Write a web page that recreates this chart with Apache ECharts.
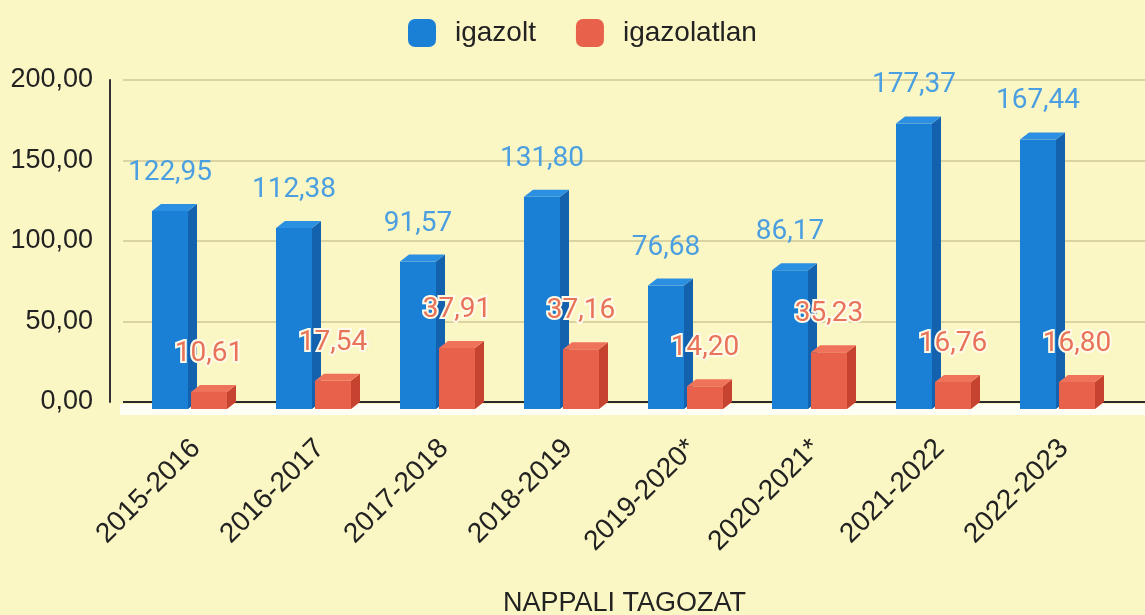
<!DOCTYPE html>
<html>
<head>
<meta charset="utf-8">
<script src="https://cdn.jsdelivr.net/npm/echarts@6/dist/echarts.min.js"></script>
<style>
  html, body { margin: 0; padding: 0; background: #fbf7c4; }
  #chart { width: 1145px; height: 615px; }
</style>
</head>
<body>
<div id="chart"></div>
<script>
const categories = ['2015-2016', '2016-2017', '2017-2018', '2018-2019', '2019-2020*', '2020-2021*', '2021-2022', '2022-2023'];
const igazolt = [122.95, 112.38, 91.57, 131.80, 76.68, 86.17, 177.37, 167.44];
const igazolatlan = [10.61, 17.54, 37.91, 37.16, 14.20, 35.23, 16.76, 16.80];
const yTicks = { min: 0, max: 200, interval: 50 };

const fmt = v => v.toFixed(2).replace('.', ',');

// 3d bar: front face + side + top
function bar3d(shift, cols) {
  return function (params, api) {
    const idx = api.value(0);
    const v = api.value(1);
    const top = api.coord([idx, v]);
    const zero = api.coord([idx, 0]);
    const w = 36, dx = 9, dy = 7;
    const x0 = top[0] + shift;
    const yT = top[1], y0 = zero[1];
    return {
      type: 'group',
      children: [
        { type: 'rect', shape: { x: x0, y: yT + dy, width: w, height: y0 - yT }, style: { fill: cols[0] } },
        { type: 'polygon', shape: { points: [[x0 + w, yT + dy], [x0 + w + dx, yT], [x0 + w + dx, y0], [x0 + w, y0 + dy]] }, style: { fill: cols[1] } },
        { type: 'polygon', shape: { points: [[x0, yT + dy], [x0 + dx, yT], [x0 + w + dx, yT], [x0 + w, yT + dy]] }, style: { fill: cols[2] } }
      ]
    };
  };
}

function labels(data, offX, col, border) {
  return {
    type: 'scatter', z: 6, silent: true,
    symbolSize: 1, itemStyle: { color: 'rgba(0,0,0,0)', opacity: 1 },
    data: data.map((v, i) => [i, v]),
    label: {
      show: true, position: 'inside', offset: [offX, -31],
      formatter: p => fmt(p.value[1]),
      fontSize: 28, fontFamily: 'Roboto', color: col, opacity: 1,
      textBorderColor: border ? '#fffbe8' : 'transparent',
      textBorderWidth: border ? 4 : 0
    }
  };
}

const chart = echarts.init(document.getElementById('chart'));
chart.setOption({
  backgroundColor: '#fbf7c4',
  animation: false,
  title: {
    text: 'NAPPALI TAGOZAT', left: 498, top: 585,
    textStyle: { fontSize: 27, fontWeight: 'normal', color: '#222', fontFamily: 'Liberation Sans' }
  },
  legend: {
    top: 14, left: 403,
    itemWidth: 28, itemHeight: 28, itemGap: 40,
    icon: 'roundRect',
    textStyle: { fontSize: 28, color: '#222', fontFamily: 'Liberation Sans', padding: [0, 0, 0, 14] },
    data: ['igazolt', 'igazolatlan']
  },
  grid: [
    { left: 134, width: 992, top: 80, bottom: 213 },
    { left: 123, right: 0, top: 80, bottom: 213 }
  ],
  xAxis: [
    {
      type: 'category', data: categories, gridIndex: 0,
      axisLine: { show: false }, axisTick: { show: false },
      axisLabel: { rotate: 45, margin: 42, fontSize: 28, color: '#222', fontFamily: 'Liberation Sans', interval: 0 }
    },
    { type: 'value', gridIndex: 1, min: 0, max: 1, show: false }
  ],
  yAxis: [
    {
      type: 'value', gridIndex: 0, min: yTicks.min, max: yTicks.max, interval: yTicks.interval,
      offset: 24,
      axisLine: { show: true, lineStyle: { color: '#333', width: 2 } },
      axisTick: { show: false },
      splitLine: { show: false },
      axisLabel: { fontSize: 27, color: '#222', margin: 17, fontFamily: 'Liberation Sans', formatter: fmt }
    },
    {
      type: 'value', gridIndex: 1, min: yTicks.min, max: yTicks.max, interval: yTicks.interval,
      axisLine: { show: false }, axisTick: { show: false }, axisLabel: { show: false },
      splitLine: { show: true, lineStyle: { color: ['#2a2a2a', '#dad4a4', '#dad4a4', '#dad4a4', '#dad4a4'], width: 2 } }
    }
  ],
  series: [
    {
      // floor strip
      type: 'custom', xAxisIndex: 1, yAxisIndex: 1, z: 1, silent: true,
      data: [[0, 0]],
      renderItem: function (params, api) {
        const cs = params.coordSys;
        const p = api.coord([0, 0]);
        return { type: 'rect', shape: { x: cs.x - 3, y: p[1] + 2, width: cs.width + 3, height: 11 }, style: { fill: '#fffef4' } };
      }
    },
    {
      name: 'igazolt', type: 'custom', z: 2,
      itemStyle: { color: '#1a80d6' },
      data: igazolt.map((v, i) => [i, v]),
      renderItem: bar3d(-44, ['#1a80d6', '#1462ae', '#2c90e2'])
    },
    {
      name: 'igazolatlan', type: 'custom', z: 3,
      itemStyle: { color: '#e8614a' },
      data: igazolatlan.map((v, i) => [i, v]),
      renderItem: bar3d(-5, ['#e8614a', '#c5432f', '#ef735b'])
    },
    labels(igazolt, -26, '#4b9fe0', false),
    labels(igazolatlan, 13, '#e8735a', true)
  ]
});
</script>
</body>
</html>
